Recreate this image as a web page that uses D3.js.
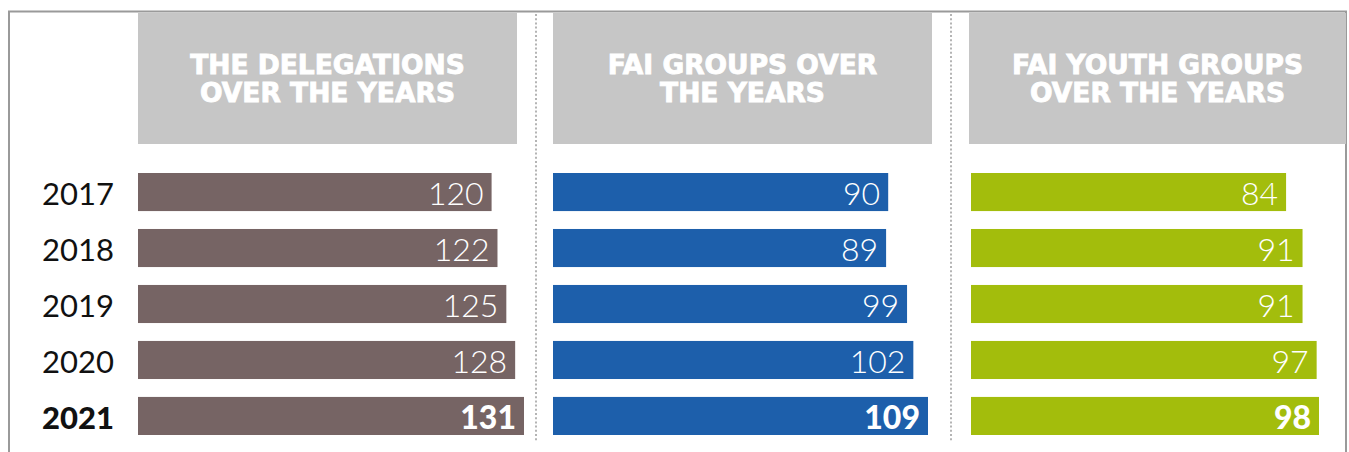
<!DOCTYPE html>
<html>
<head>
<meta charset="utf-8">
<script src="https://cdn.jsdelivr.net/npm/d3@7"></script>
<style>
  body { margin: 0; background: #fff; }
  svg { display: block; }
</style>
</head>
<body>
<script>
const years = ['2017', '2018', '2019', '2020', '2021'];
const delegations = [120, 122, 125, 128, 131];
const faiGroups = [90, 89, 99, 102, 109];
const youthGroups = [84, 91, 91, 97, 98];
const titles = [
  ['THE DELEGATIONS', 'OVER THE YEARS'],
  ['FAI GROUPS OVER', 'THE YEARS'],
  ['FAI YOUTH GROUPS', 'OVER THE YEARS']
];

const width = 1349;
const height = 452;

const svg = d3.select('body')
  .append('svg')
    .attr('width', width)
    .attr('height', height);

// panels (the original bars are not drawn to a common zero baseline)
const panels = [
  { values: delegations, color: '#766464', x: 138, headW: 379, barX: 138, domain: [0, 131], len: 386 },
  { values: faiGroups, color: '#1d5fab', x: 553, headW: 379, barX: 553, domain: [-70, 109], len: 375 },
  { values: youthGroups, color: '#a3bd0c', x: 969, headW: 377, barX: 971, domain: [-50, 98], len: 348 }
];

const y = d3.scaleBand()
  .domain(years)
  .range([173, 435])
  .paddingInner(0.32)
  .paddingOuter(0);

const last = years[years.length - 1];

// frame
svg.append('path')
  .attr('d', `M9,${height} V11.5 H1346 V${height}`)
  .attr('fill', 'none')
  .attr('stroke', '#9a9a9a')
  .attr('stroke-width', 2);

// dotted separators
[536, 951].forEach(x => {
  svg.append('line')
    .attr('x1', x).attr('x2', x)
    .attr('y1', 14).attr('y2', 441)
    .attr('stroke', '#b4b4b4')
    .attr('stroke-width', 2)
    .attr('stroke-dasharray', '2,2.2');
});

// year labels
svg.append('g')
  .selectAll('text')
  .data(years)
  .join('text')
    .attr('x', 114)
    .attr('y', d => y(d) + y.bandwidth() / 2 + 13)
    .attr('text-anchor', 'end')
    .attr('font-family', 'Lato, sans-serif')
    .attr('font-size', 31)
    .attr('font-weight', d => d === last ? 900 : 400)
    .attr('fill', '#111')
    .text(d => d);

panels.forEach((p, i) => {
  const g = svg.append('g');

  // header box
  g.append('rect')
    .attr('x', p.x)
    .attr('y', 13)
    .attr('width', p.headW)
    .attr('height', 131)
    .attr('fill', '#c6c6c6');

  g.append('text')
    .attr('x', p.x + p.headW / 2)
    .attr('text-anchor', 'middle')
    .attr('font-family', '"DejaVu Sans", sans-serif')
    .attr('font-weight', 700)
    .attr('font-size', 26.5)
    .attr('fill', '#fff')
    .attr('stroke', '#fff')
    .attr('stroke-width', 0.9)
    .selectAll('tspan')
    .data(titles[i])
    .join('tspan')
      .attr('x', p.x + p.headW / 2)
      .attr('y', (d, n) => 74 + n * 28)
      .text(d => d);

  const x = d3.scaleLinear().domain(p.domain).range([0, p.len]);
  const rows = years.map((yr, n) => ({ year: yr, value: p.values[n] }));

  g.selectAll('.bar')
    .data(rows)
    .join('rect')
      .attr('class', 'bar')
      .attr('x', p.barX)
      .attr('y', d => y(d.year))
      .attr('width', d => x(d.value))
      .attr('height', y.bandwidth())
      .attr('fill', p.color);

  g.selectAll('.val')
    .data(rows)
    .join('text')
      .attr('class', 'val')
      .attr('x', d => p.barX + x(d.value) - 8)
      .attr('y', d => y(d.year) + y.bandwidth() / 2 + 13)
      .attr('text-anchor', 'end')
      .attr('font-family', 'Lato, sans-serif')
      .attr('font-size', 32)
      .attr('font-weight', d => d.year === last ? 900 : 300)
      .attr('fill', '#fff')
      .text(d => d.value);
});
</script>
</body>
</html>
